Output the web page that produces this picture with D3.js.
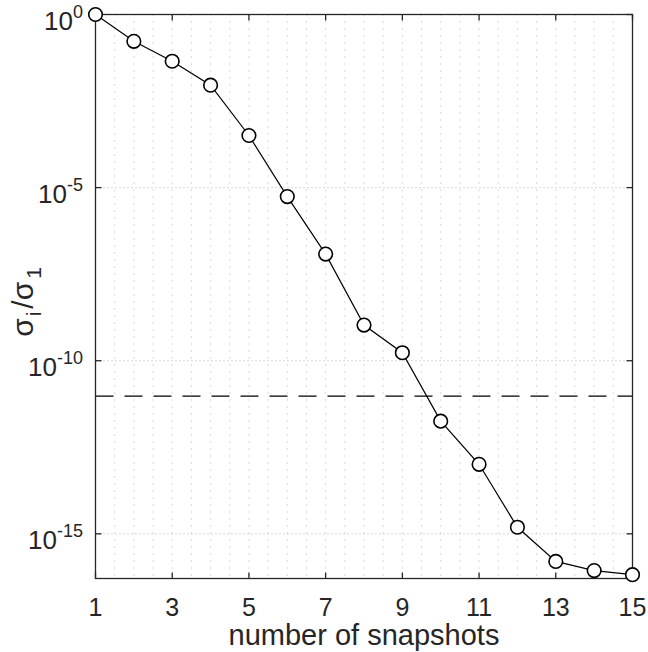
<!DOCTYPE html>
<html>
<head>
<meta charset="utf-8">
<script src="https://cdn.jsdelivr.net/npm/d3@7"></script>
<style>
  body { margin: 0; background: #fff; }
  text { font-family: "Liberation Sans", Arial, Helvetica, sans-serif; fill: #262626; }
</style>
</head>
<body>
<script>
// snapshot index and normalised singular values sigma_i / sigma_1
var snapshots = [1, 2, 3, 4, 5, 6, 7, 8, 9, 10, 11, 12, 13, 14, 15];
var sigmaRatio = [1, 1.68e-1, 4.47e-2, 9.1e-3, 3.2e-4, 5.5e-6, 1.2e-7, 1.07e-9,
  1.7e-10, 1.8e-12, 1.02e-13, 1.55e-15, 1.6e-16, 8.7e-17, 6.6e-17];
var threshold = 9.5e-12;
var xTicks = [1, 3, 5, 7, 9, 11, 13, 15];
var yTickExp = [0, -5, -10, -15];

var width = 648, height = 652;
var margin = {top: 14.5, right: 15.5, bottom: 73.5, left: 95.5};
var w = width - margin.left - margin.right;
var h = height - margin.top - margin.bottom;

var x = d3.scaleLinear().domain([1, 15]).range([0, w]);
var y = d3.scaleLog().domain([Math.pow(10, -16.29), 1]).range([h, 0]);

var svg = d3.select('body').append('svg')
  .attr('width', width)
  .attr('height', height);

var main = svg.append('g')
  .attr('transform', 'translate(' + margin.left + ',' + margin.top + ')');

// grid
var minorX = d3.range(1, 15.01, 0.5);
main.append('g').selectAll('line')
  .data(minorX)
  .enter().append('line')
  .attr('x1', function(d) { return x(d); })
  .attr('x2', function(d) { return x(d); })
  .attr('y1', 0)
  .attr('y2', h)
  .attr('stroke', '#b5b5b5')
  .attr('stroke-width', 1)
  .attr('stroke-dasharray', '1,6');

main.append('g').selectAll('line')
  .data(yTickExp)
  .enter().append('line')
  .attr('x1', 0)
  .attr('x2', w)
  .attr('y1', function(d) { return y(Math.pow(10, d)); })
  .attr('y2', function(d) { return y(Math.pow(10, d)); })
  .attr('stroke', '#b5b5b5')
  .attr('stroke-width', 1)
  .attr('stroke-dasharray', '1,3');

// threshold
main.append('line')
  .attr('x1', 0)
  .attr('x2', w)
  .attr('y1', y(threshold))
  .attr('y2', y(threshold))
  .attr('stroke', '#000')
  .attr('stroke-width', 1.2)
  .attr('stroke-dasharray', '18,11');

// box and ticks
main.append('rect')
  .attr('width', w)
  .attr('height', h)
  .attr('fill', 'none')
  .attr('stroke', '#262626')
  .attr('stroke-width', 1.3);

var ticks = main.append('g').attr('stroke', '#262626').attr('stroke-width', 1.3);
xTicks.forEach(function(t) {
  ticks.append('line').attr('x1', x(t)).attr('x2', x(t)).attr('y1', h).attr('y2', h - 6);
  ticks.append('line').attr('x1', x(t)).attr('x2', x(t)).attr('y1', 0).attr('y2', 6);
});
yTickExp.forEach(function(e) {
  var yy = y(Math.pow(10, e));
  ticks.append('line').attr('x1', 0).attr('x2', 6).attr('y1', yy).attr('y2', yy);
  ticks.append('line').attr('x1', w).attr('x2', w - 6).attr('y1', yy).attr('y2', yy);
});

// tick labels
main.append('g').selectAll('text')
  .data(xTicks)
  .enter().append('text')
  .attr('x', function(d) { return x(d); })
  .attr('y', h + 37.5)
  .attr('text-anchor', 'middle')
  .style('font-size', '25px')
  .text(function(d) { return d; });

var yl = main.append('g').selectAll('text')
  .data(yTickExp)
  .enter().append('text')
  .attr('x', -12.5)
  .attr('y', function(d) { return y(Math.pow(10, d)) + 15; })
  .attr('text-anchor', 'end')
  .style('font-size', '26px');
yl.append('tspan').text('10');
yl.append('tspan')
  .attr('dy', -12)
  .style('font-size', '18px')
  .text(function(d) { return d; });

// data line and markers
var line = d3.line()
  .x(function(d, i) { return x(snapshots[i]); })
  .y(function(d) { return y(d); });

main.append('path')
  .datum(sigmaRatio)
  .attr('d', line)
  .attr('fill', 'none')
  .attr('stroke', '#000')
  .attr('stroke-width', 1.2);

main.append('g').selectAll('circle')
  .data(sigmaRatio)
  .enter().append('circle')
  .attr('cx', function(d, i) { return x(snapshots[i]); })
  .attr('cy', function(d) { return y(d); })
  .attr('r', 6.8)
  .attr('fill', '#fff')
  .attr('stroke', '#000')
  .attr('stroke-width', 1.6);

// axis labels
svg.append('text')
  .attr('x', margin.left + w / 2)
  .attr('y', 645)
  .attr('text-anchor', 'middle')
  .style('font-size', '29px')
  .text('number of snapshots');

var ylab = svg.append('text')
  .attr('transform', 'translate(33,302) rotate(-90)')
  .attr('text-anchor', 'middle')
  .style('font-size', '30px');
ylab.append('tspan').text('σ');
ylab.append('tspan').attr('dx', 2).attr('dy', 8).style('font-size', '21px').text('i');
ylab.append('tspan').attr('dx', 3).attr('dy', -8).text('/σ');
ylab.append('tspan').attr('dx', 3).attr('dy', 8).style('font-size', '21px').text('1');
</script>
</body>
</html>
